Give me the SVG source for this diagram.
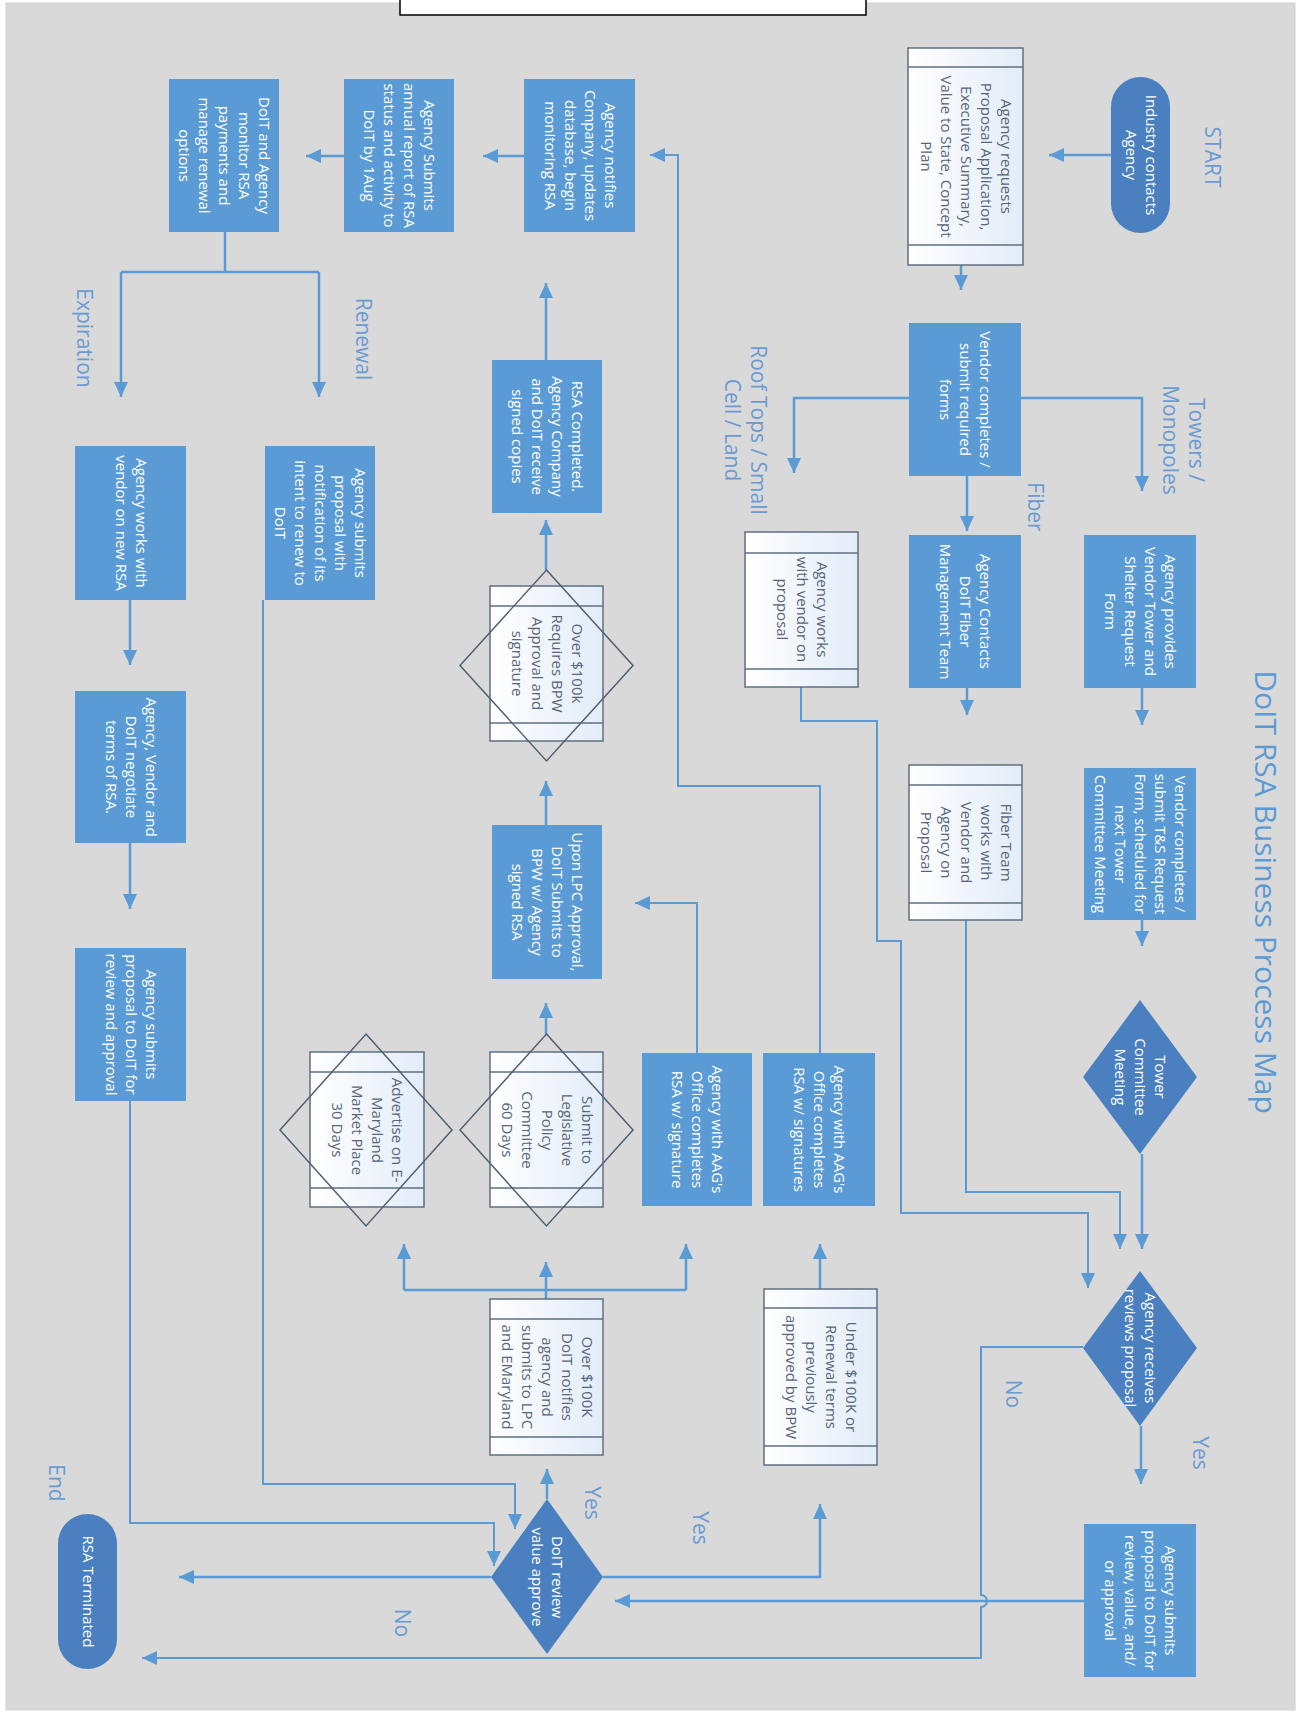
<svg xmlns="http://www.w3.org/2000/svg" width="1303" height="1713" viewBox="0 0 1303 1713">
<defs>
<style>
.bg{fill:#d9d9d9;stroke:#cfcfcf;stroke-width:1}
.bx{fill:#5b9bd5}
.dk{fill:#4a80c0}
.wb{fill:url(#wg);stroke:#5f6f80;stroke-width:1.5}
.bd{fill:none;stroke:#5f6f80;stroke-width:1.5}
.dm{fill:none;stroke:#4f6073;stroke-width:1.5}
.t{font-family:"Open Sans","Liberation Sans",sans-serif;font-size:15px;fill:#ffffff;text-anchor:middle}
.tw{font-family:"Open Sans","Liberation Sans",sans-serif;font-size:15px;fill:#56657a;text-anchor:middle}
.lb{font-family:"Open Sans","Liberation Sans",sans-serif;font-size:21px;fill:#6a9bd2;text-anchor:middle}
.ti{font-family:"Open Sans","Liberation Sans",sans-serif;font-size:30px;fill:#5b9bd5;text-anchor:middle}
.c{fill:none;stroke:#5b9bd5;stroke-width:2.5}
.ca{fill:none;stroke:#5b9bd5;stroke-width:2.5;marker-end:url(#ah)}
.cn{fill:none;stroke:#5b9bd5;stroke-width:2;marker-end:url(#ah)}
</style>
<linearGradient id="wg" x1="0" y1="0" x2="1" y2="0">
<stop offset="0" stop-color="#ffffff"/>
<stop offset="1" stop-color="#e2ecf8"/>
</linearGradient>
<marker id="ah" markerUnits="userSpaceOnUse" markerWidth="16" markerHeight="14" refX="15" refY="7" orient="auto">
<path d="M0,0 L15,7 L0,14 Z" fill="#5b9bd5"/>
</marker>
</defs>

<rect class="bg" x="6" y="3" width="1289" height="1707"/>
<rect x="400" y="-1" width="466" height="16" fill="#ffffff" stroke="#000000" stroke-width="1.5"/>

<text class="ti" transform="translate(1255,892) rotate(90)" y="0">DoIT RSA Business Process Map</text>

<g id="labels">
<text class="lb" transform="translate(1205,157) rotate(90)" y="0">START</text>
<text class="lb" transform="translate(1183,440) rotate(90)"><tspan x="0" y="-6">Towers /</tspan><tspan x="0" y="20">Monopoles</tspan></text>
<text class="lb" transform="translate(745,430) rotate(90)"><tspan x="0" y="-6">Roof Tops / Small</tspan><tspan x="0" y="20">Cell / Land</tspan></text>
<text class="lb" transform="translate(1035,507) rotate(90)" y="7">Fiber</text>
<text class="lb" transform="translate(363,339) rotate(90)" y="7">Renewal</text>
<text class="lb" transform="translate(84,338) rotate(90)" y="7">Expiration</text>
<text class="lb" transform="translate(1013,1394) rotate(90)" y="7">No</text>
<text class="lb" transform="translate(1200,1453) rotate(90)" y="7">Yes</text>
<text class="lb" transform="translate(592,1503) rotate(90)" y="7">Yes</text>
<text class="lb" transform="translate(700,1528) rotate(90)" y="7">Yes</text>
<text class="lb" transform="translate(402,1623) rotate(90)" y="7">No</text>
<text class="lb" transform="translate(56,1483) rotate(90)" y="7">End</text>
</g>

<g id="connectors">
<path class="ca" d="M1111,155 H1049"/>
<path class="ca" d="M961,252 V290"/>
<path class="ca" d="M909,398 H794 V473"/>
<path class="ca" d="M1021,398 H1142 V491"/>
<path class="ca" d="M967,476 V531"/>
<path class="ca" d="M1142,688 V725"/>
<path class="ca" d="M967,688 V715"/>
<path class="ca" d="M1142,920 V946"/>
<path class="ca" d="M1142,1154 V1249"/>
<path class="cn" d="M966,920 V1192 H1120 V1249"/>
<path class="cn" d="M801,687 V721 H877 V941 H901 V1213 H1088 V1288"/>
<path class="ca" d="M1141,1426 V1484"/>
<path class="cn" d="M1083,1347 H981 V1595 A6,6 0 0 1 981,1607 V1658 H142"/>
<path class="ca" d="M1084,1601 H615"/>
<path class="ca" d="M491,1577 H179"/>
<path class="ca" d="M547,1499 V1469"/>
<path class="ca" d="M603,1577 H820 V1504"/>
<path class="ca" d="M820,1289 V1244"/>
<path class="c" d="M546,1299 V1290 M404,1290 H686"/>
<path class="ca" d="M404,1290 V1244"/>
<path class="ca" d="M546,1290 V1262"/>
<path class="ca" d="M686,1290 V1244"/>
<path class="cn" d="M820,1053 V786 H678 V155 H650"/>
<path class="cn" d="M697,1053 V903 H635"/>
<path class="ca" d="M546,1034 V1003"/>
<path class="ca" d="M546,825 V781"/>
<path class="ca" d="M546,570 V520"/>
<path class="ca" d="M546,360 V283"/>
<path class="ca" d="M524,156 H483"/>
<path class="ca" d="M344,156 H306"/>
<path class="c" d="M225,232 V272 M121,272 H319"/>
<path class="ca" d="M121,272 V397"/>
<path class="ca" d="M319,272 V397"/>
<path class="ca" d="M130,600 V665"/>
<path class="ca" d="M130,843 V909"/>
<path class="cn" d="M130,1101 V1523 H494 V1566"/>
<path class="cn" d="M263,600 V1484 H515 V1529"/>
</g>

<g id="n1"><rect class="dk" x="1111" y="77" width="59" height="156" rx="29.5"/>
<text class="t" transform="translate(1140.5,155) rotate(90)"><tspan x="0" y="-5">Industry contacts</tspan><tspan x="0" y="15">Agency</tspan></text></g>

<g id="n2"><rect class="wb" x="908" y="48" width="115" height="217"/><path class="bd" d="M908,67 H1023 M908,245 H1023"/>
<text class="tw" transform="translate(965.5,156.5) rotate(90)"><tspan x="0" y="-35">Agency requests</tspan><tspan x="0" y="-15">Proposal Application,</tspan><tspan x="0" y="5">Executive Summary,</tspan><tspan x="0" y="25">Value to State, Concept</tspan><tspan x="0" y="45">Plan</tspan></text></g>

<g id="n3"><rect class="bx" x="909" y="323" width="112" height="153"/>
<text class="t" transform="translate(965,399.5) rotate(90)"><tspan x="0" y="-15">Vendor completes /</tspan><tspan x="0" y="5">submit required</tspan><tspan x="0" y="25">forms</tspan></text></g>

<g id="n4"><rect class="bx" x="1084" y="535" width="112" height="153"/>
<text class="t" transform="translate(1140,611.5) rotate(90)"><tspan x="0" y="-25">Agency provides</tspan><tspan x="0" y="-5">Vendor Tower and</tspan><tspan x="0" y="15">Shelter Request</tspan><tspan x="0" y="35">Form</tspan></text></g>

<g id="n5"><rect class="bx" x="909" y="535" width="112" height="153"/>
<text class="t" transform="translate(965,611.5) rotate(90)"><tspan x="0" y="-15">Agency Contacts</tspan><tspan x="0" y="5">DoIT Fiber</tspan><tspan x="0" y="25">Management Team</tspan></text></g>

<g id="n6"><rect class="wb" x="745" y="532" width="113" height="155"/><path class="bd" d="M745,553 H858 M745,669 H858"/>
<text class="tw" transform="translate(801.5,609.5) rotate(90)"><tspan x="0" y="-15">Agency works</tspan><tspan x="0" y="5">with vendor on</tspan><tspan x="0" y="25">proposal</tspan></text></g>

<g id="n7"><rect class="bx" x="1084" y="768" width="112" height="152"/>
<text class="t" transform="translate(1140,844) rotate(90)"><tspan x="0" y="-35">Vendor completes /</tspan><tspan x="0" y="-15">submit T&amp;S Request</tspan><tspan x="0" y="5">Form, scheduled for</tspan><tspan x="0" y="25">next Tower</tspan><tspan x="0" y="45">Committee Meeting</tspan></text></g>

<g id="n8"><rect class="wb" x="909" y="765" width="113" height="155"/><path class="bd" d="M909,785 H1022 M909,903 H1022"/>
<text class="tw" transform="translate(965.5,842.5) rotate(90)"><tspan x="0" y="-35">Fiber Team</tspan><tspan x="0" y="-15">works with</tspan><tspan x="0" y="5">Vendor and</tspan><tspan x="0" y="25">Agency on</tspan><tspan x="0" y="45">Proposal</tspan></text></g>

<g id="n9"><path class="dk" d="M1140,1000 L1197,1077 L1140,1154 L1083,1077 Z"/>
<text class="t" transform="translate(1140,1077) rotate(90)"><tspan x="0" y="-15">Tower</tspan><tspan x="0" y="5">Committee</tspan><tspan x="0" y="25">Meeting</tspan></text></g>

<g id="n10"><path class="dk" d="M1140,1271 L1197,1348 L1140,1426 L1083,1348 Z"/>
<text class="t" transform="translate(1140,1348) rotate(90)"><tspan x="0" y="-5">Agency receives</tspan><tspan x="0" y="15">reviews proposal</tspan></text></g>

<g id="n11"><rect class="bx" x="1084" y="1524" width="112" height="153"/>
<text class="t" transform="translate(1140,1600.5) rotate(90)"><tspan x="0" y="-25">Agency submits</tspan><tspan x="0" y="-5">proposal to DoIT for</tspan><tspan x="0" y="15">review, value, and/</tspan><tspan x="0" y="35">or approval</tspan></text></g>

<g id="n12"><path class="dk" d="M547,1499 L603,1577 L547,1654 L491,1577 Z"/>
<text class="t" transform="translate(547,1577) rotate(90)"><tspan x="0" y="-5">DoIT review</tspan><tspan x="0" y="15">value approve</tspan></text></g>

<g id="n13"><rect class="dk" x="58" y="1514" width="59" height="155" rx="29.5"/>
<text class="t" transform="translate(87.5,1591.5) rotate(90)" y="5">RSA Terminated</text></g>

<g id="n14"><rect class="wb" x="764" y="1289" width="113" height="176"/><path class="bd" d="M764,1308 H877 M764,1446 H877"/>
<text class="tw" transform="translate(820.5,1377) rotate(90)"><tspan x="0" y="-25">Under $100K or</tspan><tspan x="0" y="-5">Renewal terms</tspan><tspan x="0" y="15">previously</tspan><tspan x="0" y="35">approved by BPW</tspan></text></g>

<g id="n15"><rect class="wb" x="490" y="1299" width="113" height="156"/><path class="bd" d="M490,1319 H603 M490,1437 H603"/>
<text class="tw" transform="translate(546.5,1377) rotate(90)"><tspan x="0" y="-35">Over $100K</tspan><tspan x="0" y="-15">DoIT notifies</tspan><tspan x="0" y="5">agency and</tspan><tspan x="0" y="25">submits to LPC</tspan><tspan x="0" y="45">and EMaryland</tspan></text></g>

<g id="n16"><rect class="bx" x="763" y="1053" width="112" height="153"/>
<text class="t" transform="translate(819,1129.5) rotate(90)"><tspan x="0" y="-15">Agency with AAG's</tspan><tspan x="0" y="5">Office completes</tspan><tspan x="0" y="25">RSA w/ signatures</tspan></text></g>

<g id="n17"><rect class="bx" x="642" y="1053" width="110" height="153"/>
<text class="t" transform="translate(697,1129.5) rotate(90)"><tspan x="0" y="-15">Agency with AAG's</tspan><tspan x="0" y="5">Office completes</tspan><tspan x="0" y="25">RSA w/ signature</tspan></text></g>

<g id="n18"><rect class="wb" x="490" y="1052" width="113" height="155"/><path class="bd" d="M490,1072 H603 M490,1188 H603"/>
<path class="dm" d="M546.5,1034 L633,1130 L546.5,1226 L460,1130 Z"/>
<text class="tw" transform="translate(546.5,1130) rotate(90)"><tspan x="0" y="-35">Submit to</tspan><tspan x="0" y="-15">Legislative</tspan><tspan x="0" y="5">Policy</tspan><tspan x="0" y="25">Committee</tspan><tspan x="0" y="45">60 Days</tspan></text></g>

<g id="n19"><rect class="wb" x="310" y="1052" width="114" height="155"/><path class="bd" d="M310,1072 H424 M310,1188 H424"/>
<path class="dm" d="M366,1034 L452,1130 L366,1226 L280,1130 Z"/>
<text class="tw" transform="translate(367,1130) rotate(90)"><tspan x="0" y="-25">Advertise on E-</tspan><tspan x="0" y="-5">Maryland</tspan><tspan x="0" y="15">Market Place</tspan><tspan x="0" y="35">30 Days</tspan></text></g>

<g id="n20"><rect class="bx" x="492" y="825" width="110" height="154"/>
<text class="t" transform="translate(547,902) rotate(90)"><tspan x="0" y="-25">Upon LPC Approval,</tspan><tspan x="0" y="-5">DoIT Submits to</tspan><tspan x="0" y="15">BPW w/ Agency</tspan><tspan x="0" y="35">signed RSA</tspan></text></g>

<g id="n21"><rect class="wb" x="490" y="586" width="113" height="155"/><path class="bd" d="M490,606 H603 M490,723 H603"/>
<path class="dm" d="M546.5,570 L633,665.5 L546.5,761 L460,665.5 Z"/>
<text class="tw" transform="translate(546.5,663.5) rotate(90)"><tspan x="0" y="-25">Over $100k</tspan><tspan x="0" y="-5">Requires BPW</tspan><tspan x="0" y="15">Approval and</tspan><tspan x="0" y="35">signature</tspan></text></g>

<g id="n22"><rect class="bx" x="492" y="360" width="110" height="153"/>
<text class="t" transform="translate(547,436.5) rotate(90)"><tspan x="0" y="-25">RSA Completed.</tspan><tspan x="0" y="-5">Agency Company</tspan><tspan x="0" y="15">and DoIT receive</tspan><tspan x="0" y="35">signed  copies</tspan></text></g>

<g id="n23"><rect class="bx" x="524" y="79" width="111" height="153"/>
<text class="t" transform="translate(579.5,155.5) rotate(90)"><tspan x="0" y="-25">Agency notifies</tspan><tspan x="0" y="-5">Company, updates</tspan><tspan x="0" y="15">database, begin</tspan><tspan x="0" y="35">monitoring RSA</tspan></text></g>

<g id="n24"><rect class="bx" x="344" y="79" width="110" height="153"/>
<text class="t" transform="translate(399,155.5) rotate(90)"><tspan x="0" y="-25">Agency Submits</tspan><tspan x="0" y="-5">annual report of RSA</tspan><tspan x="0" y="15">status and activity to</tspan><tspan x="0" y="35">DoIT by 1Aug</tspan></text></g>

<g id="n25"><rect class="bx" x="169" y="79" width="110" height="153"/>
<text class="t" transform="translate(224,155.5) rotate(90)"><tspan x="0" y="-35">DoIT and Agency</tspan><tspan x="0" y="-15">monitor RSA</tspan><tspan x="0" y="5">payments and</tspan><tspan x="0" y="25">manage renewal</tspan><tspan x="0" y="45">options</tspan></text></g>

<g id="n26"><rect class="bx" x="265" y="446" width="110" height="154"/>
<text class="t" transform="translate(320,523) rotate(90)"><tspan x="0" y="-35">Agency submits</tspan><tspan x="0" y="-15">proposal with</tspan><tspan x="0" y="5">notification of its</tspan><tspan x="0" y="25">intent to renew to</tspan><tspan x="0" y="45">DoIT</tspan></text></g>

<g id="n27"><rect class="bx" x="75" y="446" width="111" height="154"/>
<text class="t" transform="translate(130.5,523) rotate(90)"><tspan x="0" y="-5">Agency works with</tspan><tspan x="0" y="15">vendor on new RSA</tspan></text></g>

<g id="n28"><rect class="bx" x="75" y="691" width="111" height="152"/>
<text class="t" transform="translate(130.5,767) rotate(90)"><tspan x="0" y="-15">Agency, Vendor and</tspan><tspan x="0" y="5">DoIT negotiate</tspan><tspan x="0" y="25">terms of RSA.</tspan></text></g>

<g id="n29"><rect class="bx" x="75" y="948" width="111" height="153"/>
<text class="t" transform="translate(130.5,1024.5) rotate(90)"><tspan x="0" y="-15">Agency submits</tspan><tspan x="0" y="5">proposal to DoIT for</tspan><tspan x="0" y="25">review and approval</tspan></text></g>
</svg>
